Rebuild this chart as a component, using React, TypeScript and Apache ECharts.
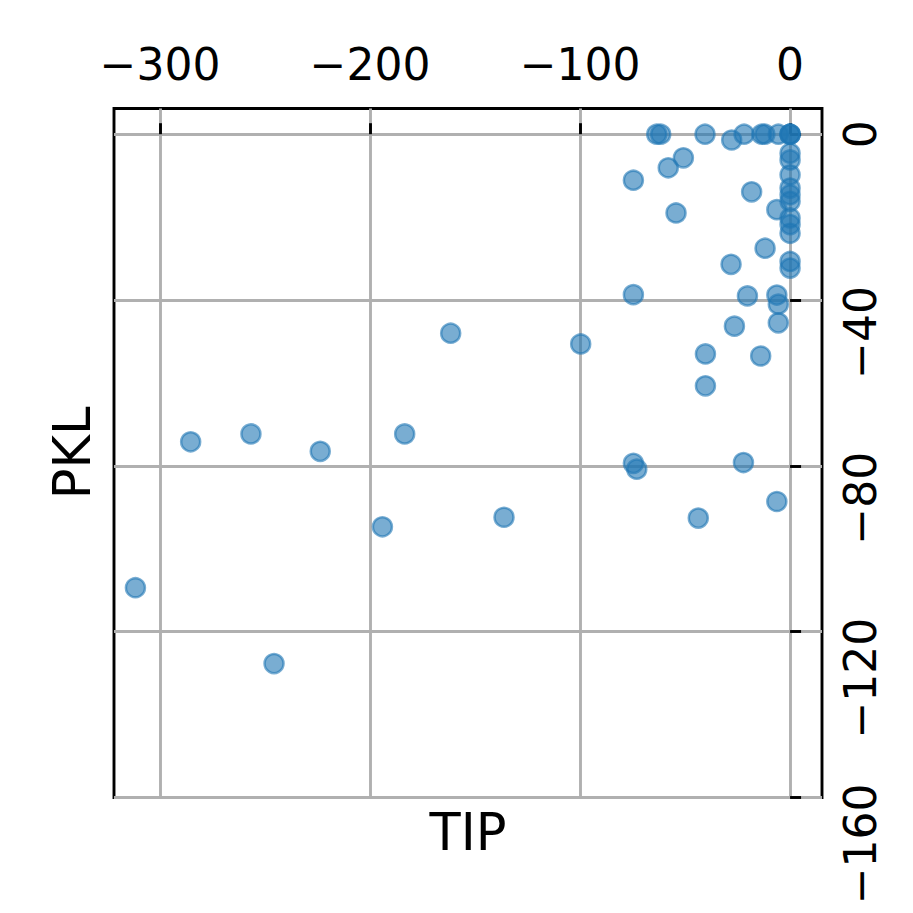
import React, { useEffect, useRef } from "react";
import * as echarts from "echarts";

const TIP: number[] = [
  -311.7, -245.7, -285.4, -256.7, -223.7, -183.5, -194.1, -161.6, -99.7, -136.2,
  -74.6, -73.0, -74.6, -74.6, -63.5, -61.6, -58.0, -50.8, -54.3, -40.5,
  -40.3, -40.3, -43.7, -27.8, -21.9, -28.1, -26.5, -22.2, -20.3, -18.3,
  -13.5, -12.0, -11.9, -14.0, -6.3, -6.3, -5.6, -5.6, -6.3, -5.6,
  0, 0, 0, 0, 0, 0, 0, 0, 0, 0, 0, 0, 0, 0,
];
const PKL: number[] = [
  -109.4, -127.7, -74.2, -72.3, -76.5, -72.3, -94.7, -48.0, -50.6, -92.4,
  -79.4, -80.8, -11.1, -38.7, 0, 0, -8.1, -5.7, -19.0, 0,
  -53.0, -60.7, -92.6, -1.4, 0, -31.4, -46.3, -79.2, -39.0, -13.9,
  0, 0, -27.5, -53.5, -18.2, -38.8, -41.0, -45.5, -88.6, 0,
  0, 0, 0, -4.6, -6.2, -9.8, -13.0, -14.6, -16.2, -20.2, -21.8, -23.9, -30.7, -32.3,
];
const X_TICKS: number[] = [-300, -200, -100, 0];
const Y_TICKS: number[] = [-160, -120, -80, -40, 0];
const X_MIN = -321.9;
const X_MAX = 15.2;
const Y_MIN = -160;
const Y_MAX = 6.2;
const X_LABEL = "TIP";
const Y_LABEL = "PKL";

const FONT = "DejaVu Sans";
const fmt = (v: number) => (v < 0 ? "\u2212" + Math.abs(v) : String(v));

export default function App() {
  const ref = useRef<HTMLDivElement>(null);
  useEffect(() => {
    if (!ref.current) return;
    const chart = echarts.init(ref.current, null, { renderer: "svg" });
    const points = TIP.map((t, i) => [t, PKL[i]]);
    const grid = "#b0b0b0";
    chart.setOption({
      animation: false,
      backgroundColor: "#ffffff",
      grid: {
        left: 114,
        right: 91,
        top: 108.5,
        bottom: 115.5,
        show: true,
        borderColor: "#000000",
        borderWidth: 2.9,
        backgroundColor: "transparent",
        outerBoundsMode: "none",
        containLabel: false,
      },
      xAxis: [
        {
          type: "value",
          position: "top",
          min: X_MIN,
          max: X_MAX,
          axisLine: { show: false },
          axisTick: {
            show: true,
            length: 11,
            customValues: X_TICKS,
            lineStyle: { color: "#000000", width: 2.9 },
          },
          axisLabel: {
            customValues: X_TICKS,
            formatter: fmt,
            fontFamily: FONT,
            fontSize: 44,
            lineHeight: 44,
            color: "#000000",
            margin: 22,
          },
          splitLine: { show: true, lineStyle: { color: grid, width: 2.9 } },
        },
        {
          type: "value",
          position: "bottom",
          min: X_MIN,
          max: X_MAX,
          axisLine: { show: false },
          axisTick: { show: false },
          axisLabel: { show: false },
          splitLine: { show: false },
          name: X_LABEL,
          nameLocation: "middle",
          nameGap: 9,
          nameTextStyle: { fontFamily: FONT, fontSize: 51, lineHeight: 51, color: "#000000" },
        },
      ],
      yAxis: [
        {
          type: "value",
          position: "right",
          min: Y_MIN,
          max: Y_MAX,
          axisLine: { show: false },
          axisTick: {
            show: true,
            length: 11,
            customValues: Y_TICKS,
            lineStyle: { color: "#000000", width: 2.9 },
          },
          axisLabel: {
            customValues: Y_TICKS,
            formatter: fmt,
            rotate: 90,
            align: "right",
            verticalAlign: "top",
            padding: [0, -14, 0, 0],
            fontFamily: FONT,
            fontSize: 44,
            lineHeight: 44,
            color: "#000000",
            margin: 16,
          },
          splitLine: { show: true, lineStyle: { color: grid, width: 2.9 } },
        },
        {
          type: "value",
          position: "left",
          min: Y_MIN,
          max: Y_MAX,
          axisLine: { show: false },
          axisTick: { show: false },
          axisLabel: { show: false },
          splitLine: { show: false },
          name: Y_LABEL,
          nameLocation: "middle",
          nameRotate: 90,
          nameGap: 16,
          nameTextStyle: { fontFamily: FONT, fontSize: 51, lineHeight: 51, color: "#000000" },
        },
      ],
      series: [
        {
          type: "scatter",
          xAxisIndex: 0,
          yAxisIndex: 0,
          data: points,
          symbol: "circle",
          symbolSize: 19,
          itemStyle: {
            color: "rgba(31,119,180,0.6)",
            borderColor: "rgba(31,119,180,0.6)",
            borderWidth: 2.5,
            opacity: 1,
          },
          emphasis: { disabled: true },
        },
      ],
    });
    return () => chart.dispose();
  }, []);
  return (
    <div
      ref={ref}
      style={{ position: "fixed", left: 0, top: 0, width: 913, height: 913, background: "#fff" }}
    />
  );
}
